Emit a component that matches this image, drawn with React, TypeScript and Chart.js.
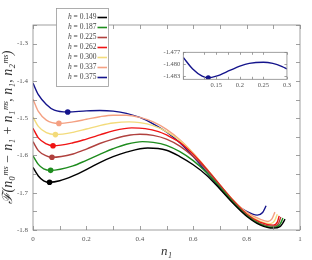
import React, { useEffect, useRef } from 'react';
import { Chart, registerables } from 'chart.js';
Chart.register(...registerables);

// ---------- data ----------
const hLabels = ['0.149', '0.187', '0.225', '0.262', '0.300', '0.337', '0.375'];
const colors = ['#000000', '#1e8c1e', '#b0413e', '#f01414', '#f3db7b', '#f4a082', '#14148c'];

const n1_149 = [0, 0.02, 0.04, 0.062, 0.1, 0.15, 0.21, 0.25, 0.3, 0.35, 0.43, 0.5, 0.55, 0.6, 0.65, 0.7, 0.75, 0.8, 0.85, 0.9, 0.925, 0.935, 0.944];
const F_149 = [-1.632, -1.655, -1.668, -1.672, -1.668, -1.655, -1.634, -1.619, -1.603, -1.591, -1.58, -1.586, -1.603, -1.625, -1.653, -1.69, -1.729, -1.763, -1.786, -1.795, -1.791, -1.782, -1.771];

const n1_187 = [0, 0.02, 0.04, 0.066, 0.15, 0.2, 0.25, 0.3, 0.35, 0.41, 0.45, 0.5, 0.55, 0.6, 0.65, 0.7, 0.75, 0.8, 0.85, 0.9, 0.925, 0.936];
const F_187 = [-1.601, -1.624, -1.636, -1.64, -1.628, -1.613, -1.597, -1.582, -1.57, -1.563, -1.565, -1.573, -1.59, -1.614, -1.646, -1.685, -1.726, -1.761, -1.784, -1.793, -1.785, -1.768];

const n1_225 = [0, 0.02, 0.05, 0.071, 0.15, 0.2, 0.25, 0.3, 0.35, 0.4, 0.45, 0.5, 0.55, 0.6, 0.65, 0.7, 0.75, 0.8, 0.85, 0.9, 0.92, 0.928];
const F_225 = [-1.563, -1.587, -1.601, -1.605, -1.596, -1.583, -1.568, -1.556, -1.547, -1.543, -1.546, -1.556, -1.575, -1.603, -1.639, -1.681, -1.723, -1.759, -1.782, -1.79, -1.782, -1.765];

const n1_262 = [0, 0.02, 0.05, 0.075, 0.15, 0.2, 0.25, 0.3, 0.37, 0.42, 0.47, 0.5, 0.55, 0.6, 0.65, 0.7, 0.75, 0.8, 0.85, 0.9, 0.915, 0.922];
const F_262 = [-1.527, -1.553, -1.569, -1.574, -1.566, -1.556, -1.545, -1.534, -1.526, -1.528, -1.536, -1.545, -1.565, -1.597, -1.636, -1.679, -1.721, -1.757, -1.779, -1.787, -1.779, -1.762];

const n1_300 = [0, 0.02, 0.05, 0.084, 0.15, 0.2, 0.25, 0.3, 0.36, 0.4, 0.45, 0.5, 0.55, 0.6, 0.65, 0.7, 0.75, 0.8, 0.85, 0.89, 0.905, 0.915];
const F_300 = [-1.497, -1.522, -1.539, -1.544, -1.538, -1.529, -1.52, -1.513, -1.51, -1.512, -1.52, -1.536, -1.56, -1.594, -1.635, -1.679, -1.72, -1.755, -1.776, -1.783, -1.775, -1.758];

const n1_337 = [0, 0.02, 0.05, 0.097, 0.15, 0.2, 0.25, 0.3, 0.35, 0.4, 0.45, 0.5, 0.55, 0.6, 0.65, 0.7, 0.75, 0.8, 0.85, 0.88, 0.895, 0.906];
const F_337 = [-1.449, -1.482, -1.505, -1.514, -1.51, -1.503, -1.496, -1.492, -1.492, -1.498, -1.51, -1.53, -1.558, -1.594, -1.636, -1.679, -1.72, -1.752, -1.771, -1.777, -1.77, -1.752];

const n1_375 = [0, 0.02, 0.05, 0.08, 0.13, 0.2, 0.25, 0.3, 0.35, 0.4, 0.45, 0.5, 0.55, 0.6, 0.65, 0.7, 0.75, 0.8, 0.84, 0.86, 0.873];
const F_375 = [-1.406, -1.437, -1.463, -1.4785, -1.4834, -1.4805, -1.4795, -1.4812, -1.487, -1.498, -1.515, -1.537, -1.566, -1.603, -1.645, -1.687, -1.724, -1.75, -1.76, -1.753, -1.735];

const minN1 = [0.062, 0.066, 0.071, 0.075, 0.084, 0.097, 0.13];
const minF = [-1.672, -1.64, -1.605, -1.574, -1.544, -1.514, -1.4834];

const insetN1 = [0.08, 0.1, 0.12, 0.133, 0.15, 0.18, 0.2, 0.22, 0.25, 0.27, 0.29, 0.3];
const insetF = [-1.4783, -1.4812, -1.483, -1.4834, -1.483, -1.4815, -1.4805, -1.4798, -1.4795, -1.4798, -1.4806, -1.4812];
const insetMinN1 = [0.133];
const insetMinF = [-1.4834];

const xTickLabels = ['0', '0.2', '0.4', '0.6', '0.8', '1'];
const yTickLabels = ['-1.8', '-1.7', '-1.6', '-1.5', '-1.4', '-1.3'];
const insetXTickLabels = ['0.1', '0.15', '0.2', '0.25', '0.3'];
const insetYTicks = [-1.477, -1.48, -1.483];

const curveN1 = [n1_149, n1_187, n1_225, n1_262, n1_300, n1_337, n1_375];
const curveF = [F_149, F_187, F_225, F_262, F_300, F_337, F_375];

const SERIF = "'Liberation Serif', 'DejaVu Serif', serif";

function framePlugin(len: number, color: string) {
  return {
    id: 'frameTicks',
    afterDatasetsDraw(chart: any) {
      const { ctx, chartArea: a, scales } = chart;
      const xs = scales.x;
      const ys = scales.y;
      ctx.save();
      ctx.strokeStyle = color;
      ctx.lineWidth = 0.8;
      ctx.strokeRect(a.left, a.top, a.right - a.left, a.bottom - a.top);
      ctx.beginPath();
      xs.ticks.forEach((t: any) => {
        const px = Math.round(xs.getPixelForValue(t.value)) + 0.5;
        ctx.moveTo(px, a.bottom);
        ctx.lineTo(px, a.bottom - len);
        ctx.moveTo(px, a.top);
        ctx.lineTo(px, a.top + len);
      });
      ys.ticks.forEach((t: any) => {
        const py = Math.round(ys.getPixelForValue(t.value)) + 0.5;
        ctx.moveTo(a.left, py);
        ctx.lineTo(a.left + len, py);
        ctx.moveTo(a.right, py);
        ctx.lineTo(a.right - len, py);
      });
      ctx.stroke();
      ctx.restore();
    },
  };
}

const legendPlugin = {
  id: 'boxLegend',
  afterDraw(chart: any) {
    const ctx = chart.ctx;
    ctx.save();
    const bx = 56.5, by = 8.5, bw = 52, bh = 78;
    ctx.fillStyle = '#ffffff';
    ctx.fillRect(bx, by, bw, bh);
    ctx.strokeStyle = '#9a9a9a';
    ctx.lineWidth = 0.8;
    ctx.strokeRect(bx, by, bw, bh);
    ctx.textBaseline = 'middle';
    hLabels.forEach((h, i) => {
      const y = 17.5 + i * 10;
      const rest = ' = ' + h;
      ctx.font = `7.5px ${SERIF}`;
      const wRest = ctx.measureText(rest).width;
      ctx.font = `italic 7.5px ${SERIF}`;
      const wH = ctx.measureText('h').width;
      const right = 96.5;
      ctx.fillStyle = '#444444';
      ctx.fillText('h', right - wRest - wH, y);
      ctx.font = `7.5px ${SERIF}`;
      ctx.fillText(rest, right - wRest, y);
      ctx.strokeStyle = colors[i];
      ctx.lineWidth = 1.6;
      ctx.beginPath();
      ctx.moveTo(97.5, y);
      ctx.lineTo(107, y);
      ctx.stroke();
    });
    ctx.restore();
  },
};

function MainChart() {
  const ref = useRef<HTMLCanvasElement>(null);
  useEffect(() => {
    const datasets: any[] = curveN1.map((xs, i) => ({
      label: 'h = ' + hLabels[i],
      data: xs.map((x, j) => ({ x, y: curveF[i][j] })),
      showLine: true,
      borderColor: colors[i],
      borderWidth: 1.4,
      pointRadius: 0,
      cubicInterpolationMode: 'monotone',
      fill: false,
    }));
    datasets.push({
      label: 'minima',
      data: minN1.map((x, j) => ({ x, y: minF[j] })),
      showLine: false,
      pointRadius: 2.8,
      pointBackgroundColor: colors,
      pointBorderColor: colors,
      pointBorderWidth: 0,
    });
    const chart = new Chart(ref.current!, {
      type: 'scatter',
      data: { datasets },
      options: {
        animation: false,
        responsive: false,
        maintainAspectRatio: false,
        layout: { padding: { left: 0, right: 12, top: 25, bottom: 0 } },
        plugins: { legend: { display: false }, tooltip: { enabled: false } },
        scales: {
          x: {
            type: 'linear',
            min: 0,
            max: 1,
            grid: { display: false, drawTicks: false },
            border: { display: false },
            ticks: {
              stepSize: 0.1,
              autoSkip: false,
              maxRotation: 0,
              padding: 5,
              color: '#555',
              font: { family: SERIF, size: 7 },
              callback: (v: any) => {
                const s = String(parseFloat(Number(v).toFixed(2)));
                return xTickLabels.includes(s) ? s : '';
              },
            },
            title: {
              display: true,
              text: 'n₁',
              color: '#333',
              font: { family: SERIF, size: 13, style: 'italic' },
              padding: { top: 0, bottom: 1 },
            },
            afterFit: (s: any) => { s.height = 30; },
          },
          y: {
            type: 'linear',
            min: -1.8,
            max: -1.25,
            grid: { display: false, drawTicks: false },
            border: { display: false },
            ticks: {
              stepSize: 0.05,
              autoSkip: false,
              padding: 5,
              color: '#555',
              font: { family: SERIF, size: 7 },
              callback: (v: any) => {
                const s = Number(v).toFixed(1);
                return yTickLabels.includes(s) && Math.abs(Number(v) - parseFloat(s)) < 1e-6 ? s : '';
              },
            },
            title: {
              display: true,
              text: 'ℱ(n₀ᵐˢ − n₁ + n₁ᵐˢ, n₁, n₂ᵐˢ)',
              color: '#333',
              font: { family: SERIF, size: 14, style: 'italic' },
              padding: { top: 0, bottom: 0 },
            },
            afterFit: (s: any) => { s.width = 33; },
          },
        },
      } as any,
      plugins: [framePlugin(4, '#888888'), legendPlugin],
    });
    return () => chart.destroy();
  }, []);
  return <canvas ref={ref} width={312} height={260} style={{ position: 'absolute', left: 0, top: 0 }} />;
}

function InsetChart() {
  const ref = useRef<HTMLCanvasElement>(null);
  useEffect(() => {
    const chart = new Chart(ref.current!, {
      type: 'scatter',
      data: {
        datasets: [
          {
            data: insetN1.map((x, j) => ({ x, y: insetF[j] })),
            showLine: true,
            borderColor: colors[6],
            borderWidth: 1.4,
            pointRadius: 0,
            cubicInterpolationMode: 'monotone',
          },
          {
            data: insetMinN1.map((x, j) => ({ x, y: insetMinF[j] })),
            showLine: false,
            pointRadius: 2.5,
            pointBackgroundColor: colors[6],
            pointBorderWidth: 0,
          },
        ] as any,
      },
      options: {
        animation: false,
        responsive: false,
        maintainAspectRatio: false,
        layout: { padding: { left: 0, right: 5.7, top: 8.3, bottom: 0 } },
        plugins: { legend: { display: false }, tooltip: { enabled: false } },
        scales: {
          x: {
            type: 'linear',
            min: 0.08,
            max: 0.3,
            grid: { display: false, drawTicks: false },
            border: { display: false },
            ticks: {
              stepSize: 0.025,
              autoSkip: false,
              maxRotation: 0,
              padding: 2,
              color: '#555',
              font: { family: SERIF, size: 6.5 },
              callback: (v: any) => {
                const s = String(parseFloat(Number(v).toFixed(3)));
                return insetXTickLabels.includes(s) ? s : '';
              },
            },
            afterFit: (s: any) => { s.height = 12.7; },
          },
          y: {
            type: 'linear',
            min: -1.4838,
            max: -1.477,
            grid: { display: false, drawTicks: false },
            border: { display: false },
            afterBuildTicks: (s: any) => { s.ticks = insetYTicks.map((value) => ({ value })); },
            ticks: {
              autoSkip: false,
              padding: 3,
              color: '#555',
              font: { family: SERIF, size: 6.5 },
              callback: (v: any) => Number(v).toFixed(3),
            },
            afterFit: (s: any) => { s.width = 33.3; },
          },
        },
      } as any,
      plugins: [framePlugin(2.5, '#888888')],
    });
    return () => chart.destroy();
  }, []);
  return <canvas ref={ref} width={143} height={48} style={{ position: 'absolute', left: 150, top: 44 }} />;
}

export default function App() {
  return (
    <div style={{ position: 'absolute', left: 0, top: 0, width: 312, height: 260, background: '#fff' }}>
      <MainChart />
      <InsetChart />
    </div>
  );
}
